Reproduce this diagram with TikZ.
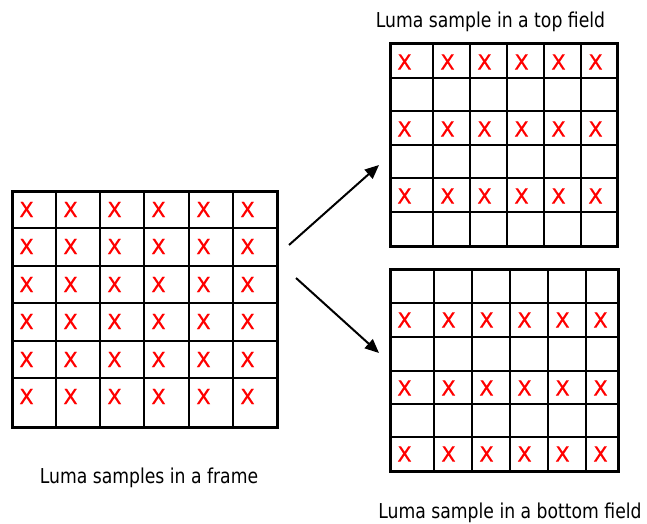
\documentclass[tikz,border=0pt]{standalone}
\usepackage{fontspec}
\setmainfont{DejaVu Sans}
\newfontfamily\lblfont[FakeStretch=0.84]{DejaVu Sans}
\newfontfamily\xfont[FakeBold=0.6]{DejaVu Sans}
\usetikzlibrary{arrows.meta}
\begin{document}
\begin{tikzpicture}[x=1pt,y=-1pt,
  gridline/.style={line width=1.5pt, black},
  border/.style={line width=3pt, black},
  sample/.style={text=red, font=\xfont\fontsize{21}{21}\selectfont, inner sep=0pt},
  caption/.style={font=\lblfont\fontsize{20.5}{20.5}\selectfont, inner sep=0pt, anchor=base},
  arr/.style={line width=2pt, -{Triangle[length=14pt,width=12pt]}}]
\useasboundingbox (0,0) rectangle (647,524);
% ---------- frame ----------
\foreach \x in {56,100,144,189,233} \draw[gridline] (\x,191) -- (\x,427);
\foreach \y in {228,266,303,341,378} \draw[gridline] (12,\y) -- (277,\y);
\draw[border] (12,191) rectangle (277,427);
\foreach \x [count=\i] in {12,56,100,144,189,233}
  \foreach \y [count=\j] in {191,228,266,303,341,378}
    \node[sample] (f\i\j) at (\x+14.5,\y+18.5) {X};
% ---------- top field ----------
\foreach \x in {433,470,507,544,581} \draw[gridline] (\x,44) -- (\x,246);
\foreach \y in {78,111,145,178,212} \draw[gridline] (390,\y) -- (617,\y);
\draw[border] (390,44) rectangle (617,246);
\foreach \x [count=\i] in {390,433,470,507,544,581}
  \foreach \y [count=\j] in {44,111,178}
    \node[sample] (t\i\j) at (\x+14.5,\y+18) {X};
% ---------- bottom field ----------
\foreach \x in {434,472,510,548,586} \draw[gridline] (\x,269) -- (\x,471);
\foreach \y in {303,337,371,404,437} \draw[gridline] (390,\y) -- (618,\y);
\draw[border] (390,269) rectangle (618,471);
\foreach \x [count=\i] in {390,434,472,510,548,586}
  \foreach \y [count=\j] in {303,371,437}
    \node[sample] (b\i\j) at (\x+14.5,\y+17) {X};
% ---------- arrows ----------
\coordinate (a1s) at (289,245);
\coordinate (a1e) at (379,165);
\coordinate (a2s) at (296,278);
\coordinate (a2e) at (379,353);
\draw[arr] (a1s) -- (a1e);
\draw[arr] (a2s) -- (a2e);
% ---------- captions ----------
\node[caption] (cap1) at (149,483) {Luma samples in a frame};
\node[caption] (cap2) at (490.5,28) {Luma sample in a top field};
\node[caption] (cap3) at (510,518) {Luma sample in a bottom field};
\end{tikzpicture}
\end{document}
